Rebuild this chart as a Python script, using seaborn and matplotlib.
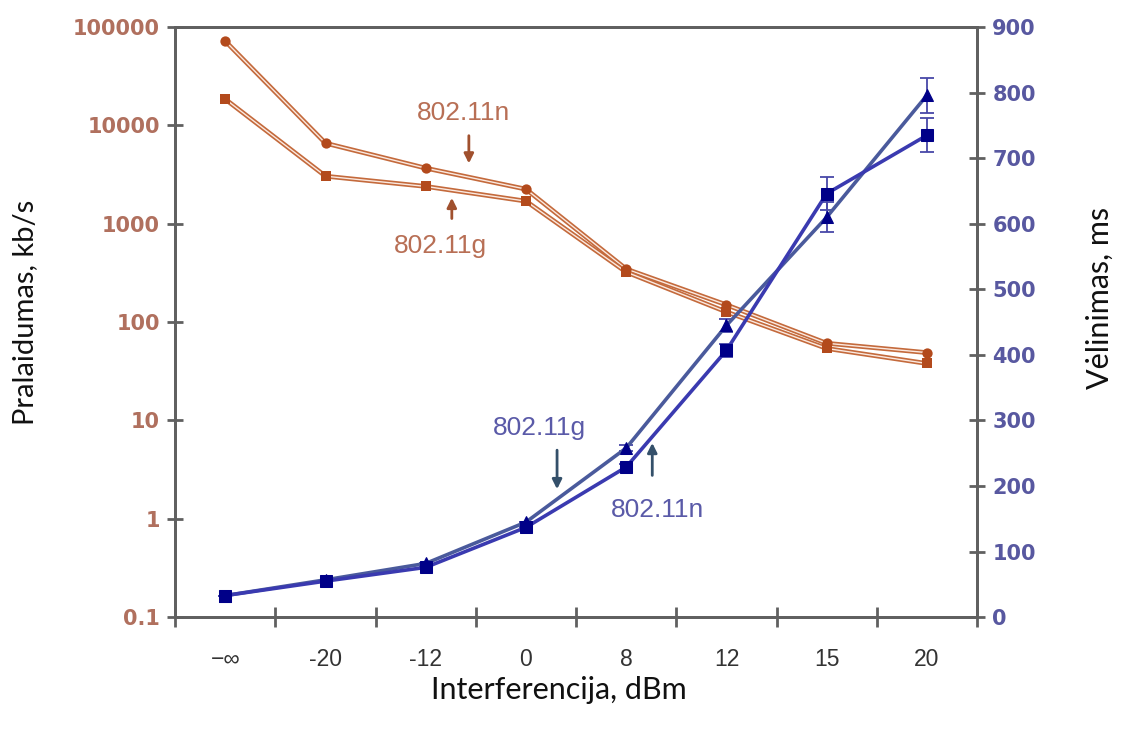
import matplotlib
matplotlib.use("Agg")
import matplotlib.pyplot as plt
import matplotlib.patheffects as pe
from matplotlib.ticker import FixedLocator, NullLocator, FuncFormatter
import numpy as np
import pandas as pd
import seaborn as sns

# ---- data ----
categories = ["\u2212\u221e", "-20", "-12", "0", "8", "12", "15", "20"]
thr_n = [72000, 6600, 3680, 2250, 347, 150, 61, 49]      # 802.11n throughput, kb/s
thr_g = [18500, 3050, 2400, 1700, 323, 127, 54, 38]      # 802.11g throughput, kb/s
del_g = [33, 57, 82, 145, 258, 445, 610, 796]            # 802.11g delay, ms
del_n = [33, 55, 76, 137, 229, 407, 646, 735]            # 802.11n delay, ms
err_g = [0, 0, 0, 0, 5, 10, 23, 27]
err_n = [0, 0, 0, 0, 5, 10, 25, 26]
left_ticks = [0.1, 1, 10, 100, 1000, 10000, 100000]
right_ticks = [0, 100, 200, 300, 400, 500, 600, 700, 800, 900]

sns.set_theme(style="white")
plt.rcParams["font.family"] = ["DejaVu Sans"]

x = np.arange(len(categories))
df = pd.DataFrame({"x": x, "thr_n": thr_n, "thr_g": thr_g,
                   "del_g": del_g, "del_n": del_n})

fig = plt.figure(figsize=(11.23, 7.33), dpi=100)
ax = fig.add_axes([0.156, 0.158, 0.714, 0.805])
ax2 = ax.twinx()

brown_line = "#c46a3c"
brown_mark = "#b34a1c"
blue_line_g = "#4a5a9c"
blue_line_n = "#3a3ab0"
blue_mark = "#000088"

def dbl(c, w=3.4):
    return [pe.Stroke(linewidth=w, foreground=c),
            pe.Stroke(linewidth=1.0, foreground="#fbe9e0")]

# throughput (left, log) - lines
sns.lineplot(data=df, x="x", y="thr_n", ax=ax, color=brown_line, lw=3.2,
             path_effects=dbl(brown_line))
sns.lineplot(data=df, x="x", y="thr_g", ax=ax, color=brown_line, lw=3.2,
             path_effects=dbl(brown_line))
# throughput markers
sns.scatterplot(data=df, x="x", y="thr_n", ax=ax, marker="o", s=55,
                color=brown_mark, edgecolor=brown_mark, linewidth=0, zorder=4)
sns.scatterplot(data=df, x="x", y="thr_g", ax=ax, marker="s", s=50,
                color=brown_mark, edgecolor=brown_mark, linewidth=0, zorder=4)

# delay (right, linear)
ax2.errorbar(x, del_g, yerr=err_g, fmt="none", ecolor="#4848a8", elinewidth=1.3,
             capsize=5, capthick=1.3)
ax2.errorbar(x, del_n, yerr=err_n, fmt="none", ecolor="#4848a8", elinewidth=1.3,
             capsize=5, capthick=1.3)
sns.lineplot(data=df, x="x", y="del_g", ax=ax2, color=blue_line_g, lw=2.6,
             marker="^", markersize=8, markerfacecolor=blue_mark,
             markeredgecolor=blue_mark)
sns.lineplot(data=df, x="x", y="del_n", ax=ax2, color=blue_line_n, lw=2.6,
             marker="s", markersize=9, markerfacecolor=blue_mark,
             markeredgecolor=blue_mark)

ax.set_yscale("log")
ax.set_ylim(0.1, 100000)
ax2.set_ylim(0, 900)
ax.set_xlim(-0.5, 7.5)

ax.yaxis.set_major_locator(FixedLocator(left_ticks))
ax.yaxis.set_minor_locator(NullLocator())
ax.yaxis.set_major_formatter(FuncFormatter(lambda v, p: "%g" % v))
ax2.yaxis.set_major_locator(FixedLocator(right_ticks))

ax.set_xticks(x)
ax.set_xticklabels(categories)
ax.set_xticks(np.arange(-0.5, 7.6, 1.0), minor=True)

spine_c = "#606060"
for a in (ax, ax2):
    for s in a.spines.values():
        s.set_color(spine_c)
        s.set_linewidth(2)
    a.set_xlabel("")
    a.set_ylabel("")

ax.tick_params(axis="x", which="major", length=0, pad=22, labelsize=16.5,
               labelcolor="#333333")
ax.tick_params(axis="x", which="minor", direction="inout", length=14, width=2,
               color=spine_c, bottom=True)
ax.tick_params(axis="y", which="major", direction="inout", length=12, width=2,
               color=spine_c, labelsize=15, labelcolor="#b0705e", pad=5)
ax2.tick_params(axis="y", which="major", direction="inout", length=12, width=2,
                color=spine_c, labelsize=15, labelcolor="#5858a0", pad=5, right=True)
for lab in ax.get_yticklabels():
    lab.set_fontweight("bold")
for lab in ax2.get_yticklabels():
    lab.set_fontweight("bold")
for lab in ax.get_xticklabels():
    lab.set_family(["Liberation Sans"])

# axis titles
fig.text(0.022, 0.574, "Pralaidumas, kb/s", rotation=90, ha="center", va="center",
         fontsize=21, family=["Lato"], color="#111111")
fig.text(0.979, 0.593, "V\u0117linimas, ms", rotation=90, ha="center", va="center",
         fontsize=22, family=["Lato"], color="#111111")
fig.text(0.498, 0.058, "Interferencija, dBm", ha="center", va="center",
         fontsize=22, family=["Lato"], color="#111111")

# annotations
brown_txt = "#b86f55"
ax.text(2.38, 13300, "802.11n", color=brown_txt, fontsize=19, ha="center", va="center",
        family=["Liberation Sans"])
ax.annotate("", xy=(2.43, 3850), xytext=(2.43, 8400),
            arrowprops=dict(arrowstyle="-|>", color="#a0502e", lw=2, mutation_scale=14))
ax.text(2.15, 600, "802.11g", color=brown_txt, fontsize=19, ha="center", va="center",
        family=["Liberation Sans"])
ax.annotate("", xy=(2.26, 1960), xytext=(2.26, 1060),
            arrowprops=dict(arrowstyle="-|>", color="#a0502e", lw=2, mutation_scale=14))

blue_txt = "#5a5aa8"
arrow_blue = "#34506a"
ax2.text(3.13, 288, "802.11g", color=blue_txt, fontsize=19, ha="center", va="center",
         family=["Liberation Sans"])
ax2.annotate("", xy=(3.31, 191), xytext=(3.31, 259),
             arrowprops=dict(arrowstyle="-|>", color=arrow_blue, lw=2, mutation_scale=14))
ax2.text(4.31, 163, "802.11n", color=blue_txt, fontsize=19, ha="center", va="center",
         family=["Liberation Sans"])
ax2.annotate("", xy=(4.26, 270), xytext=(4.26, 212),
             arrowprops=dict(arrowstyle="-|>", color=arrow_blue, lw=2, mutation_scale=14))

fig.savefig("out.png", dpi=100)
